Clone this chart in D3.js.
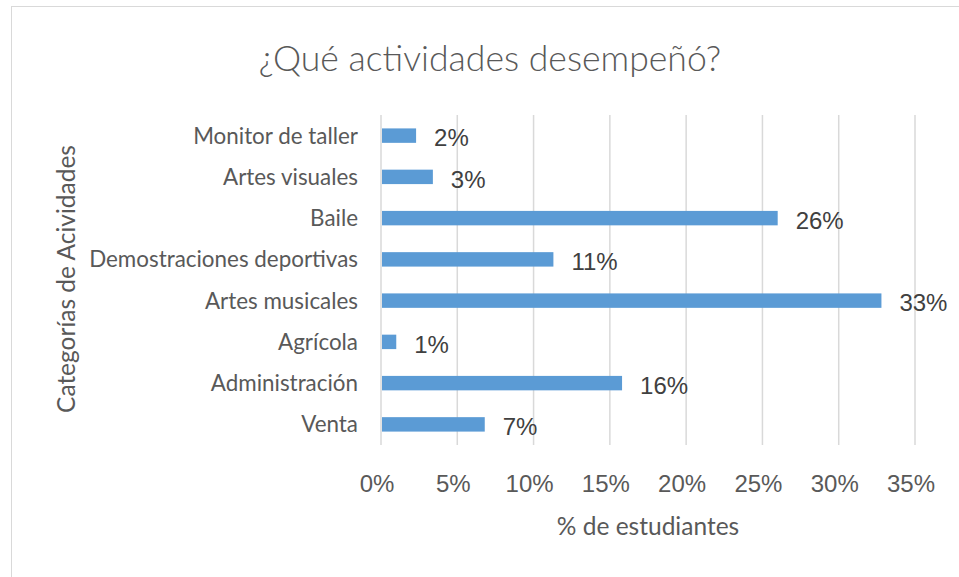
<!DOCTYPE html>
<html>
<head>
<meta charset="utf-8">
<script src="https://cdn.jsdelivr.net/npm/d3@7"></script>
<style>
  body { margin: 0; background: #fff; }
  text { fill: #595959; }
</style>
</head>
<body>
<div id="chart"></div>
<script>
// data (percent of students)
let categories = ["Monitor de taller", "Artes visuales", "Baile", "Demostraciones deportivas",
                  "Artes musicales", "Agrícola", "Administración", "Venta"];
let values = [2.3, 3.4, 26.0, 11.3, 32.8, 1.0, 15.8, 6.8];
let xTicks = [0, 5, 10, 15, 20, 25, 30, 35];

let width = 959, height = 577;
let margin = {top: 115, right: 44, bottom: 132, left: 381};

let svg = d3.select("#chart")
    .append("svg")
    .attr("width", width)
    .attr("height", height);

// chart frame
svg.append("rect")
    .attr("x", 11.5).attr("y", 6.5)
    .attr("width", width + 20).attr("height", height + 20)
    .attr("fill", "none")
    .attr("stroke", "#d9d9d9");

let x = d3.scaleLinear()
    .domain([0, 35])
    .range([margin.left, width - margin.right]);

let y = d3.scaleBand()
    .domain(categories)
    .range([margin.top, height - margin.bottom])
    .paddingInner(0.65)
    .paddingOuter(0.325);

// vertical gridlines
svg.append("g")
    .selectAll("line")
    .data(xTicks)
    .enter()
    .append("line")
    .attr("x1", d => x(d)).attr("x2", d => x(d))
    .attr("y1", margin.top).attr("y2", height - margin.bottom)
    .attr("stroke", "#d9d9d9")
    .attr("stroke-width", 1.5);

// x tick labels
svg.append("g")
    .selectAll("text")
    .data(xTicks)
    .enter()
    .append("text")
    .attr("x", d => x(d) - 4)
    .attr("y", 492)
    .attr("text-anchor", "middle")
    .style("font-family", "'Liberation Sans', Arial, sans-serif")
    .style("font-size", "24px")
    .text(d => d + "%");

// category labels
let yAxis = svg.append("g")
    .attr("transform", "translate(" + (margin.left - 23) + ",0)")
    .call(d3.axisLeft(y).tickSize(0).tickPadding(0));
yAxis.select(".domain").remove();
yAxis.selectAll("text")
    .attr("dy", "0.36em")
    .style("font-family", "Lato, sans-serif")
    .style("font-size", "22.4px")
    .style("fill", "#595959");

// bars
svg.append("g")
    .selectAll("rect")
    .data(values)
    .enter()
    .append("rect")
    .attr("x", x(0) + 1)
    .attr("y", (d, i) => y(categories[i]))
    .attr("width", d => x(d) - x(0) - 1)
    .attr("height", y.bandwidth())
    .attr("fill", "#5b9bd5");

// data labels
svg.append("g")
    .selectAll("text")
    .data(values)
    .enter()
    .append("text")
    .attr("x", d => x(d) + 18)
    .attr("y", (d, i) => y(categories[i]) + y.bandwidth() / 2)
    .attr("dy", "0.45em")
    .style("font-family", "'Liberation Sans', Arial, sans-serif")
    .style("font-size", "24px")
    .style("fill", "#404040")
    .text(d => Math.round(d) + "%");

// titles
svg.append("text")
    .attr("x", 490).attr("y", 71)
    .attr("text-anchor", "middle")
    .style("font-family", "Lato, sans-serif")
    .style("font-weight", 300)
    .style("font-size", "35.6px")
    .text("¿Qué actividades desempeñó?");

svg.append("text")
    .attr("x", (x(0) + x(35)) / 2).attr("y", 535)
    .attr("text-anchor", "middle")
    .style("font-family", "Lato, sans-serif")
    .style("font-size", "24.5px")
    .text("% de estudiantes");

svg.append("text")
    .attr("transform", "translate(75," + 279 + ") rotate(-90)")
    .attr("text-anchor", "middle")
    .style("font-family", "Lato, sans-serif")
    .style("font-size", "24.5px")
    .text("Categorías de Acividades");
</script>
</body>
</html>
